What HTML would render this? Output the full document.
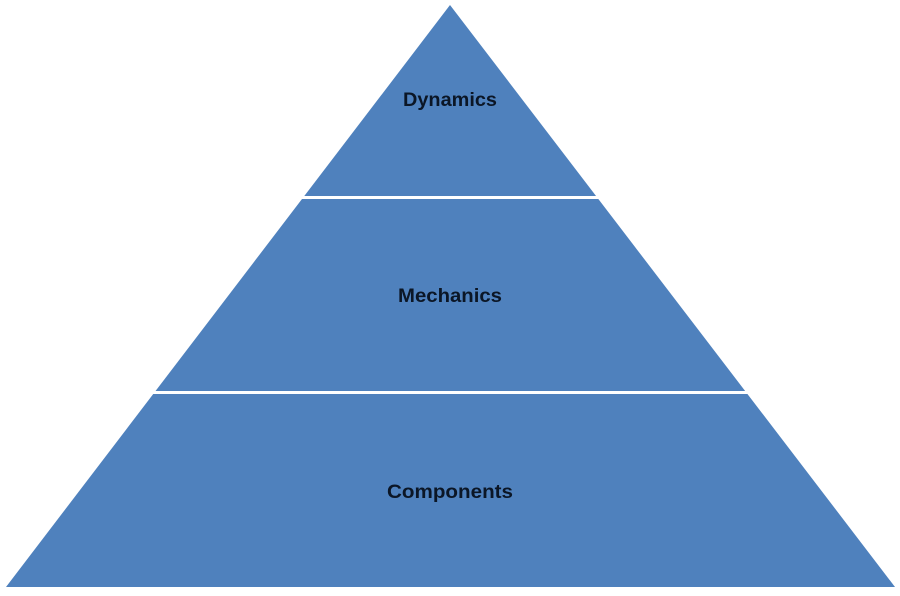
<!DOCTYPE html>
<html><head><style>html,body{margin:0;padding:0;background:#fff}</style></head>
<body>
<svg width="900" height="591" viewBox="0 0 900 591" xmlns="http://www.w3.org/2000/svg">
<polygon points="450,5 895,587 6,587" fill="#4F81BD"/>
<rect x="0" y="196" width="900" height="3" fill="#fff"/>
<rect x="0" y="391" width="900" height="3" fill="#fff"/>
<g font-family="Liberation Sans, sans-serif" font-weight="bold" font-size="19" fill="#0b1626" text-anchor="middle">
<text x="450" y="106" textLength="94" lengthAdjust="spacingAndGlyphs">Dynamics</text>
<text x="450" y="302" textLength="104" lengthAdjust="spacingAndGlyphs">Mechanics</text>
<text x="450" y="498" textLength="126" lengthAdjust="spacingAndGlyphs">Components</text>
</g>
</svg>
</body></html>
